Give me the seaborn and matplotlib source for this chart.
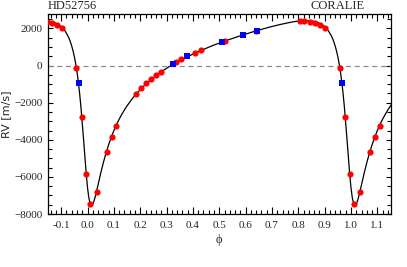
import numpy as np
import pandas as pd
import matplotlib
matplotlib.use("Agg")
import matplotlib.pyplot as plt
from matplotlib.ticker import MultipleLocator
import seaborn as sns

# Orbital phase and RV [m/s] of the measurements
red_phase = [0.806, 0.822, 0.845, 0.864, 0.883, 0.902, 0.957, 0.978, 0.995, 0.010,
             0.034, 0.072, 0.091, 0.109, 0.184, 0.203, 0.222, 0.241, 0.261, 0.279,
             0.337, 0.356, 0.407, 0.430, 0.520, 0.638]
red_rv = [2391, 2391, 2355, 2300, 2212, 2034, -124, -2752, -5846, -7464,
          -6800, -4641, -3850, -3250, -1511, -1223, -953, -737, -521, -324,
          198, 342, 702, 846, 1331, 1871]
blue_phase = [0.966, 0.324, 0.378, 0.510, 0.589, 0.642]
blue_rv = [-955, 90, 522, 1277, 1655, 1889]

# Model curve over one period (phase, RV)
curve_phase = [0.000, 0.005, 0.010, 0.015, 0.020, 0.025, 0.030, 0.035, 0.040, 0.045,
               0.050, 0.055, 0.060, 0.070, 0.080, 0.090, 0.100, 0.110, 0.120, 0.130,
               0.140, 0.150, 0.170, 0.190, 0.210, 0.230, 0.250, 0.270, 0.290, 0.310,
               0.330, 0.350, 0.370, 0.390, 0.410, 0.430, 0.450, 0.470, 0.490, 0.510,
               0.530, 0.550, 0.570, 0.590, 0.610, 0.630, 0.650, 0.670, 0.690, 0.710,
               0.730, 0.750, 0.770, 0.790, 0.810, 0.830, 0.850, 0.870, 0.890, 0.900,
               0.905, 0.910, 0.915, 0.920, 0.925, 0.930, 0.935, 0.940, 0.945, 0.950,
               0.955, 0.960, 0.965, 0.970, 0.975, 0.980, 0.985, 0.990, 0.995]
curve_rv = [-6590, -7130, -7440, -7530, -7460, -7280, -7020, -6730, -6420, -6100,
            -5800, -5510, -5230, -4720, -4270, -3860, -3500, -3180, -2890, -2630,
            -2390, -2170, -1780, -1450, -1150, -890, -650, -440, -240, -60,
            110, 270, 410, 550, 690, 810, 930, 1050, 1160, 1260,
            1370, 1460, 1560, 1650, 1740, 1830, 1910, 1990, 2070, 2140,
            2210, 2270, 2330, 2380, 2410, 2420, 2410, 2350, 2210, 2100,
            2030, 1950, 1860, 1740, 1610, 1460, 1270, 1050, 790, 480,
            100, -340, -880, -1510, -2250, -3090, -4000, -4950, -5840]

x_ticks = [-0.1, 0.0, 0.1, 0.2, 0.3, 0.4, 0.5, 0.6, 0.7, 0.8, 0.9, 1.0, 1.1]
y_ticks = [-8000, -6000, -4000, -2000, 0, 2000]

sns.set_style("ticks")
plt.rcParams['font.family'] = ['Liberation Serif', 'DejaVu Serif']
plt.rcParams['axes.unicode_minus'] = True

shifts = [-1, 0, 1]
curve_df = pd.DataFrame({
    "phase": np.concatenate([np.array(curve_phase) + s for s in shifts] + [[2.0]]),
    "rv": np.concatenate([np.array(curve_rv, float) for s in shifts] + [[curve_rv[0]]]),
})
red_df = pd.DataFrame({
    "phase": np.concatenate([np.array(red_phase) + s for s in shifts]),
    "rv": np.concatenate([np.array(red_rv, float) for s in shifts]),
})
blue_df = pd.DataFrame({
    "phase": np.concatenate([np.array(blue_phase) + s for s in shifts]),
    "rv": np.concatenate([np.array(blue_rv, float) for s in shifts]),
})

fig = plt.figure(figsize=(4.07, 2.67), dpi=100)
ax = fig.add_axes([0.118, 0.1985, 0.8415, 0.7505])

ax.axhline(0, color="#8c8c8c", lw=0.9, ls=(0, (4, 3)), zorder=1)
sns.lineplot(data=curve_df, x="phase", y="rv", sort=False, color="black",
             lw=0.9, ax=ax, zorder=2, estimator=None)
sns.scatterplot(data=red_df, x="phase", y="rv", color="#ff0000", marker="o",
                s=20, linewidth=0, ax=ax, zorder=3)
sns.scatterplot(data=blue_df, x="phase", y="rv", color="#0000ff", marker="s",
                s=18, linewidth=0, ax=ax, zorder=4)

ax.set_xlim(-0.15, 1.15)
ax.set_ylim(-8000, 2800)
ax.set_xticks(x_ticks)
ax.set_xticklabels(["%.1f" % v for v in x_ticks])
ax.set_yticks(y_ticks)
ax.set_yticklabels([("\u2212%d" % -v) if v < 0 else "%d" % v for v in y_ticks])
ax.xaxis.set_minor_locator(MultipleLocator(0.02))
ax.yaxis.set_minor_locator(MultipleLocator(500))
ax.tick_params(which="both", direction="in", top=True, right=True, labelsize=8,
               width=0.8, color="black")
ax.tick_params(axis="x", which="major", length=5, pad=5)
ax.tick_params(axis="x", which="minor", length=2.6)
ax.tick_params(axis="y", which="major", length=3.5, pad=4)
ax.tick_params(axis="y", which="minor", length=2.6)
for sp in ax.spines.values():
    sp.set_linewidth(0.9)
    sp.set_color("black")

ax.set_xlabel("\u03d5", fontsize=9, labelpad=3)
ax.set_ylabel("RV [m/s]", fontsize=8, family=["DejaVu Sans"], labelpad=2)

ax.text(0.0, 1.01, "HD52756", transform=ax.transAxes, ha="left", va="bottom", fontsize=9)
ax.text(0.925, 1.01, "CORALIE", transform=ax.transAxes, ha="right", va="bottom", fontsize=9)

fig.savefig("out.png", dpi=100)
